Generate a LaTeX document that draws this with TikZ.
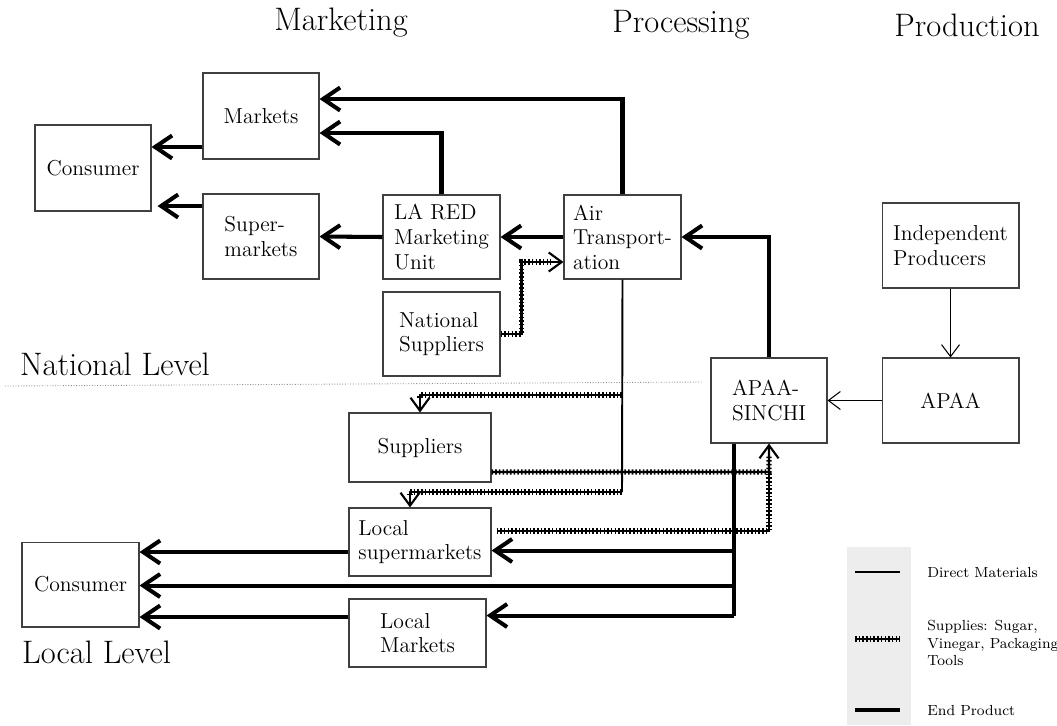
\documentclass[tikz,border=0pt]{standalone}
\usepackage{tikz}
\usetikzlibrary{positioning,calc,arrows.meta}

\begin{document}
\begin{tikzpicture}[
            x=0.02cm, y=-0.02cm,
            box/.style={
                rectangle,
                draw=black!75,
                line width=0.6pt,
                align=left,
                inner sep=0pt,
                font=\fontsize{12.3}{14}\selectfont
            },
            heading/.style={
                anchor=base,
                font=\fontsize{18.5}{22}\selectfont
            },
            level/.style={
                anchor=base west,
                font=\fontsize{18.5}{22}\selectfont
            },
            legend/.style={
                anchor=west,
                align=left,
                inner sep=0pt,
                font=\fontsize{8.3}{9.8}\selectfont
            },
            prodline/.style={
                line width=2.3pt
            },
            prod/.style={
                prodline,
                -{Straight Barb[length=3.4mm,width=4.6mm]}
            },
            direct/.style={
                line width=1.1pt
            },
            thinarrow/.style={
                line width=0.6pt,
                -{Straight Barb[length=2.4mm,width=3.6mm]}
            },
            supply/.style={
                line width=1.2pt,
                postaction={draw, -, line width=3pt, dash pattern=on 0.9pt off 1.2pt}
            },
            supplyto/.style={
                line width=1.2pt,
                -{Straight Barb[length=2.6mm,width=3.8mm]},
                postaction={draw, -, line width=3pt, dash pattern=on 0.9pt off 1.2pt, shorten >=2.6mm}
            },
        ]

            \useasboundingbox (0,0) rectangle (1057,725);

            % column titles
            \node[heading] (tmkt) at (341,30) {Marketing};
            \node[heading] (tproc) at (681,32) {Processing};
            \node[heading] (tprod) at (967,36) {Production};

            % national level
            \node[box, minimum width=2.32cm, minimum height=1.72cm] (consN) at (93,168) {Consumer};
            \node[box, minimum width=2.32cm, minimum height=1.72cm] (markets) at (261,116) {Markets};
            \node[box, minimum width=2.32cm, minimum height=1.70cm] (supmkt) at (261,236.5) {Super-\\markets};
            \node[box, minimum width=2.34cm, minimum height=1.68cm] (lared) at (441.5,237) {LA RED\\Marketing\\Unit};
            \node[box, minimum width=2.34cm, minimum height=1.68cm] (air) at (622.5,237) {Air\\Transport-\\ation};
            \node[box, minimum width=2.34cm, minimum height=1.68cm] (natsup) at (441.5,334) {National\\Suppliers};
            \node[box, minimum width=2.74cm, minimum height=1.70cm] (indep) at (950.5,245.5) {Independent\\Producers};
            \node[box, minimum width=2.74cm, minimum height=1.70cm] (apaa) at (950.5,400.5) {APAA};
            \node[box, minimum width=2.32cm, minimum height=1.70cm] (sinchi) at (769,400.5) {APAA-\\SINCHI};

            % local level
            \node[box, minimum width=2.84cm, minimum height=1.38cm] (suppliers) at (420,447.5) {Suppliers};
            \node[box, minimum width=2.84cm, minimum height=1.36cm] (locsup) at (420,542) {Local\\supermarkets};
            \node[box, minimum width=2.74cm, minimum height=1.36cm] (locmkt) at (417.5,633) {Local\\Markets};
            \node[box, minimum width=2.34cm, minimum height=1.70cm] (consL) at (80.5,584.5) {Consumer};

            \node[level] (lnat) at (14,375) {National Level};
            \node[level] (lloc) at (16,663) {Local Level};
            \draw[black!45, line width=0.5pt, densely dotted] (5,386) -- (702,382);

            % end product, upper part
            \draw[prod] ([yshift=-0.62cm]markets.west) coordinate (m1) -- (m1 -| consN.east);
            \draw[prod, shorten >=0.12cm] ([yshift=0.61cm]supmkt.west) coordinate (s1) -- (s1 -| consN.east);
            \draw[prod] (lared.west) -- (supmkt.east);
            \draw[prod] (air.west) -- (lared.east);
            \draw[prod] (air.north) |- ([yshift=0.34cm]markets.east);
            \draw[prod] (lared.north) |- ([yshift=-0.34cm]markets.east);
            \draw[prod] (sinchi.north) |- (air.east);

            % direct materials
            \draw[thinarrow] (indep.south) -- (apaa.north);
            \draw[thinarrow] (apaa.west) -- (sinchi.east);

            % supplies
            \draw[supplyto] (natsup.east) -- ++(21,0) |- ([yshift=-0.5cm]air.west);
            \coordinate (fork1) at (622,395);
            \coordinate (fork2) at (622,492);
            \draw[direct] (air.south) -- (fork2);
            \draw[supplyto] (fork1) -| (suppliers.north);
            \draw[supplyto] (fork2) -| ([xshift=-0.2cm]locsup.north);
            \coordinate (sjoin) at (769,472);
            \draw[supplyto] ([yshift=-0.49cm]suppliers.east) -- (sjoin) -- (sinchi.south);
            \draw[supply] ([xshift=0.1cm,yshift=0.22cm]locsup.east) -| (sjoin);

            % end product, lower part
            \coordinate (sout) at ([xshift=-0.7cm]sinchi.south);
            \path (sout) ++(0,107) coordinate (b1) ++(0,35) coordinate (b2) ++(0,30) coordinate (b3);
            \draw[prodline] (sout) -- (b3);
            \draw[prod] (b1) -- (b1 -| locsup.east);
            \draw[prod] (b2) -- (b2 -| consL.east);
            \draw[prod] (b3) -- (b3 -| locmkt.east);
            \draw[prod] ([yshift=-0.2cm]locsup.west) coordinate (l1) -- (l1 -| consL.east);
            \draw[prod] ([yshift=0.32cm]locmkt.west) coordinate (l2) -- (l2 -| consL.east);

            % legend
            \fill[black!7] (847,547) rectangle (911,725);
            \draw[line width=0.8pt] (855,572) -- (900,572);
            \draw[supply] (855,639) -- (900,639);
            \draw[prodline] (855,710) -- (900,710);
            \node[legend] (ldir) at (927,572) {Direct Materials};
            \node[legend] (lsup) at (927,643) {Supplies: Sugar,\\Vinegar, Packaging\\Tools};
            \node[legend] (lend) at (927,710) {End Product};
        \end{tikzpicture}
\end{document}
